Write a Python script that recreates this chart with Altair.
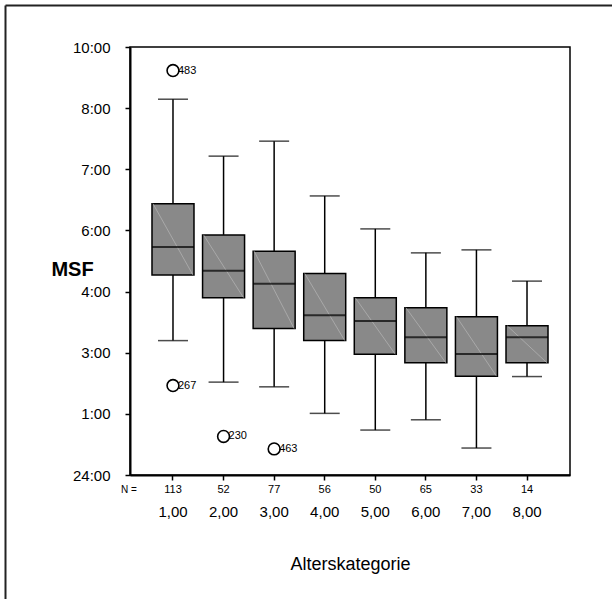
import json
import altair as alt
import pandas as pd

# ---- data ----
categories = ["1,00", "2,00", "3,00", "4,00", "5,00", "6,00", "7,00", "8,00"]
n_counts = [113, 52, 77, 56, 50, 65, 33, 14]
whisker_low = [3.14, 2.17, 2.06, 1.44, 1.05, 1.29, 0.63, 2.30]
q1 = [4.67, 4.14, 3.42, 3.14, 2.82, 2.62, 2.31, 2.62]
median = [5.33, 4.77, 4.47, 3.73, 3.60, 3.22, 2.83, 3.22]
q3 = [6.34, 5.61, 5.23, 4.71, 4.14, 3.91, 3.70, 3.49]
whisker_high = [8.78, 7.45, 7.80, 6.52, 5.75, 5.19, 5.26, 4.53]

outlier_cat = ["1,00", "1,00", "2,00", "3,00"]
outlier_val = [9.45, 2.09, 0.90, 0.61]
outlier_label = ["483", "267", "230", "463"]

y_tick_labels = ["24:00", "1:00", "3:00", "4:00", "6:00", "7:00", "8:00", "10:00"]
y_tick_values = [i * 10 / 7 for i in range(len(y_tick_labels))]

FONT = "Liberation Sans"

boxes = pd.DataFrame({
    "cat": categories, "n": [str(v) for v in n_counts],
    "lo": whisker_low, "q1": q1, "med": median, "q3": q3, "hi": whisker_high,
})
outl = pd.DataFrame({"cat": outlier_cat, "val": outlier_val, "lab": outlier_label})
one = pd.DataFrame({"k": [0]})

label_expr = json.dumps(y_tick_labels) + "[round(datum.value * 0.7)]"

x_enc = alt.X(
    "cat:N", sort=categories,
    scale=alt.Scale(paddingInner=0, paddingOuter=0.35),
    axis=alt.Axis(
        title="Alterskategorie", labelAngle=0, labelFontSize=15, labelPadding=24,
        labelColor="black", tickColor="black", tickSize=5, tickWidth=1.5,
        domainColor="black", domainWidth=2, titleFontSize=18, titleFontWeight="normal",
        titlePadding=36, titleColor="black", grid=False,
    ),
)
y_scale = alt.Scale(domain=[0, 10], nice=False, zero=False)
y_axis = alt.Axis(
    title="MSF", values=y_tick_values, labelExpr=label_expr, labelFontSize=15,
    labelPadding=15, labelColor="black", tickColor="black", tickSize=5, tickWidth=1.5,
    domainColor="black", domainWidth=2, grid=False,
    titleAngle=0, titleX=-58, titleY=222, titleAlign="center", titleBaseline="middle",
    titleFontSize=20, titleFontWeight="bold", titleColor="black",
)

base = alt.Chart(boxes)

whisk_up = base.mark_rule(color="black", strokeWidth=1.5).encode(
    x=x_enc, y=alt.Y("q3:Q", scale=y_scale, axis=y_axis), y2="hi:Q")
whisk_dn = base.mark_rule(color="black", strokeWidth=1.5).encode(
    x="cat:N", y="q1:Q", y2="lo:Q")
cap_hi = base.mark_tick(color="black", size=30, thickness=1.5).encode(x="cat:N", y="hi:Q")
cap_lo = base.mark_tick(color="black", size=30, thickness=1.5).encode(x="cat:N", y="lo:Q")
box = base.mark_bar(size=42, fill="#898989", stroke="black", strokeWidth=1.5).encode(
    x="cat:N", y="q3:Q", y2="q1:Q")
diag = base.mark_rule(color="#bdbdbd", strokeWidth=0.6, xOffset=-20, x2Offset=20).encode(
    x="cat:N", x2="cat:N", y="q3:Q", y2="q1:Q")
med_t = base.mark_tick(color="black", size=42, thickness=2).encode(x="cat:N", y="med:Q")

n_text = base.mark_text(font=FONT, fontSize=11, color="black", baseline="middle").encode(
    x="cat:N", y=alt.value(443), text="n:N")
n_head = alt.Chart(one).mark_text(font=FONT, fontSize=10, color="black", baseline="middle").encode(
    x=alt.value(-1), y=alt.value(443), text=alt.value("N ="))

pts = alt.Chart(outl).mark_point(shape="circle", size=140, filled=True, fill="white",
                                  stroke="black", strokeWidth=1.6, opacity=1).encode(
    x="cat:N", y="val:Q")
pts_lab = alt.Chart(outl).mark_text(font=FONT, fontSize=11, color="black", align="left",
                                     baseline="middle", dx=5).encode(
    x="cat:N", y="val:Q", text="lab:N")

border_v = alt.Chart(one).mark_rule(color="#222222", strokeWidth=2).encode(
    x=alt.value(-124.5), y=alt.value(-41.5), y2=alt.value(600))
border_h = alt.Chart(one).mark_rule(color="#222222", strokeWidth=2).encode(
    x=alt.value(-124.5), x2=alt.value(500), y=alt.value(-41.5))

chart = alt.layer(
    whisk_up, whisk_dn, cap_hi, cap_lo, box, diag, med_t, pts, pts_lab, n_text, n_head,
    border_v, border_h,
).properties(
    width=440, height=428,
    autosize=alt.AutoSizeParams(type="none"),
    padding={"left": 130, "top": 47, "right": 42, "bottom": 124},
    background="white",
).configure(font=FONT).configure_view(stroke="black", strokeWidth=1.5)

chart.save("out.html", embed_options={"renderer": "svg", "actions": False})
